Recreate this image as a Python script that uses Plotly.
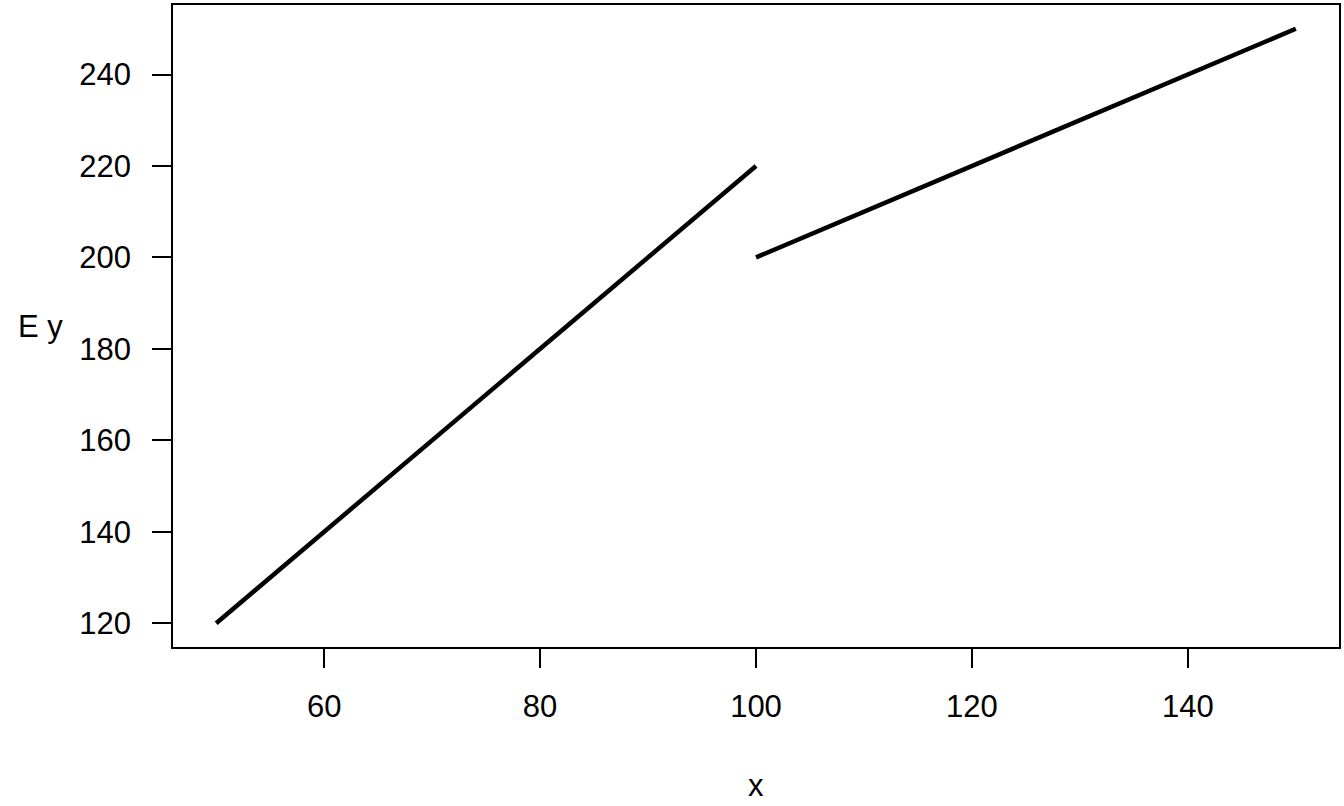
import plotly.graph_objects as go

# ===============================
# DATA
# ===============================
seg1_x = [50, 100]
seg1_y = [120, 220]
seg2_x = [100, 150]
seg2_y = [200, 250]

x_ticks = [60, 80, 100, 120, 140]
y_ticks = [120, 140, 160, 180, 200, 220, 240]

FONT = "Liberation Sans, Arial, sans-serif"

fig = go.Figure()

for xs, ys in [(seg1_x, seg1_y), (seg2_x, seg2_y)]:
    fig.add_trace(go.Scatter(
        x=xs, y=ys, mode="lines",
        line=dict(color="black", width=4.5),
        showlegend=False, hoverinfo="skip"
    ))

axis_common = dict(
    showgrid=False, zeroline=False,
    showline=True, linecolor="black", linewidth=1.7, mirror=True,
    ticks="outside", ticklen=19, tickwidth=1.7, tickcolor="black",
    tickfont=dict(family=FONT, size=31, color="black"),
)

fig.update_xaxes(range=[46, 154], tickvals=x_ticks, ticklabelstandoff=12, **axis_common)
fig.update_yaxes(range=[114.8, 255.2], tickvals=y_ticks, ticklabelstandoff=15, **axis_common)

# axis labels (R style, y label horizontal)
fig.add_annotation(text="x", xref="paper", yref="paper", x=0.5, y=0,
                   xanchor="center", yanchor="middle",
                   yshift=-138, showarrow=False,
                   font=dict(family=FONT, size=31, color="black"))
fig.add_annotation(text="E y", xref="paper", yref="paper", x=0, y=0.5,
                   xanchor="center", yanchor="middle",
                   xshift=-133, showarrow=False,
                   font=dict(family=FONT, size=31, color="black"))

fig.update_layout(
    width=1344, height=806,
    margin=dict(l=173, r=4, t=3, b=159),
    plot_bgcolor="white", paper_bgcolor="white",
    font=dict(family=FONT, color="black"),
)

fig.write_html("out.html", config={"displayModeBar": False},
               post_script="document.body.style.margin='0';")
